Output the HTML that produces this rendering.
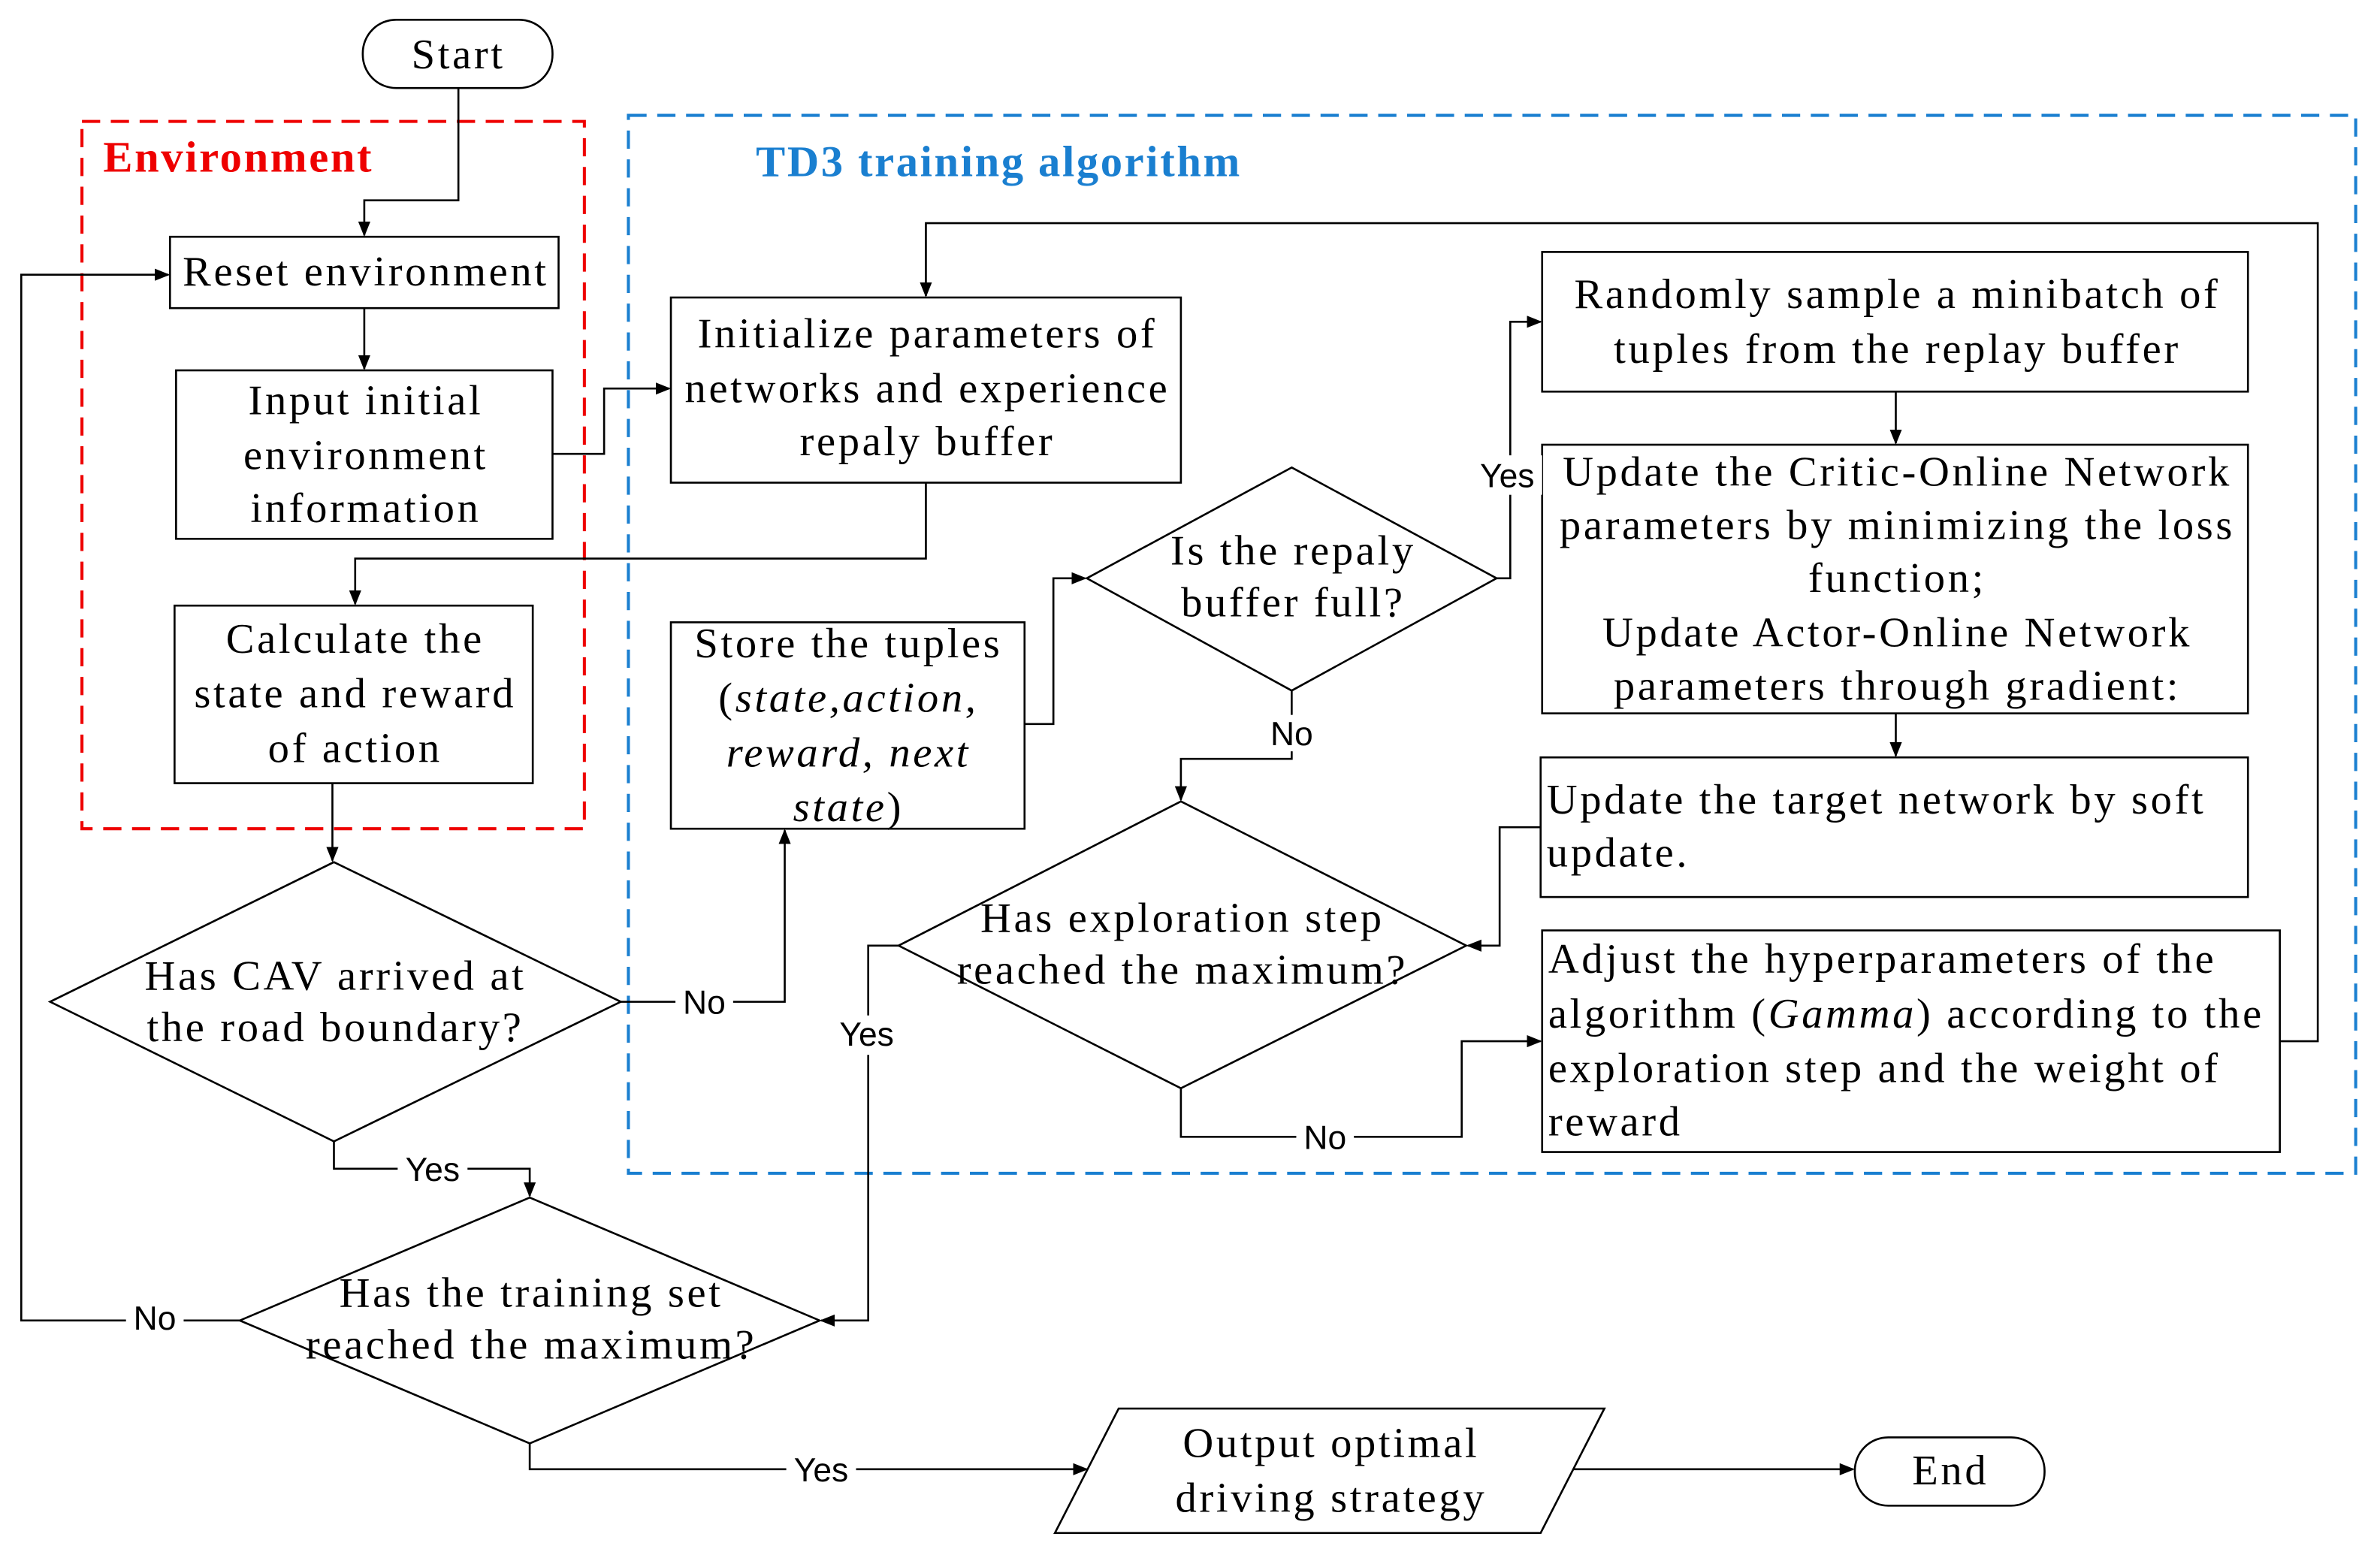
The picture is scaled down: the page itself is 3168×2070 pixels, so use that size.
<!DOCTYPE html>
<html><head><meta charset="utf-8">
<style>
html,body{margin:0;padding:0;background:#fff;width:3168px;height:2070px;overflow:hidden}
svg{display:block}
.s{font-family:"Liberation Serif",serif;font-size:28px;letter-spacing:1.8px;fill:#000}
.l{font-family:"Liberation Sans",sans-serif;font-size:22px;fill:#000}
.b{fill:#fff;stroke:#000;stroke-width:1.3}
.c{fill:none;stroke:#000;stroke-width:1.3}
</style></head><body>
<svg width="3168" height="2070" viewBox="0 0 1568 1024.5" preserveAspectRatio="none" xmlns="http://www.w3.org/2000/svg">
<defs><marker id="a" markerWidth="10" markerHeight="8" refX="9" refY="4" orient="auto" markerUnits="userSpaceOnUse"><path d="M0,0 L10,4 L0,8 z" fill="#000"/></marker></defs>
<rect width="1568" height="1024.5" fill="#fff"/>
<rect x="54" y="80" width="331" height="466" fill="none" stroke="#e00" stroke-width="2" stroke-dasharray="12,7"/>
<rect x="414" y="76" width="1138" height="697" fill="none" stroke="#1a7fd0" stroke-width="2" stroke-dasharray="12,7"/>
<text x="68" y="113" font-family="Liberation Serif,serif" font-weight="bold" font-size="29" letter-spacing="1.3" fill="#e00">Environment</text>
<text x="498" y="116" font-family="Liberation Serif,serif" font-weight="bold" font-size="29" letter-spacing="1.3" fill="#1a7fd0">TD3 training algorithm</text>

<g class="c">
<path d="M302,58 V132 H240 V155" marker-end="url(#a)"/>
<path d="M240,203 V243" marker-end="url(#a)"/>
<path d="M364,299 H398 V256 H441" marker-end="url(#a)"/>
<path d="M610,318 V368 H234 V398" marker-end="url(#a)"/>
<path d="M219,516 V567" marker-end="url(#a)"/>
<path d="M409,660 H517 V547" marker-end="url(#a)"/>
<path d="M675,477 H694 V381 H715" marker-end="url(#a)"/>
<path d="M986,381 H995 V212 H1015" marker-end="url(#a)"/>
<path d="M851,455 V500 H778 V527" marker-end="url(#a)"/>
<path d="M1249,258 V292" marker-end="url(#a)"/>
<path d="M1249,470 V498" marker-end="url(#a)"/>
<path d="M1015,545 H988 V623 H967" marker-end="url(#a)"/>
<path d="M778,717 V749 H963 V686 H1015" marker-end="url(#a)"/>
<path d="M1502,686 H1527 V147 H610 V195" marker-end="url(#a)"/>
<path d="M592,623 H572 V870 H541" marker-end="url(#a)"/>
<path d="M220,752 V770 H349 V788" marker-end="url(#a)"/>
<path d="M158,870 H14 V181 H111" marker-end="url(#a)"/>
<path d="M349,951 V968 H716" marker-end="url(#a)"/>
<path d="M1036,968 H1221" marker-end="url(#a)"/>
</g>

<rect class="b" x="239" y="13" width="125" height="45" rx="22"/>
<text class="s" x="302" y="45" text-anchor="middle">Start</text>
<rect class="b" x="112" y="156" width="256" height="47"/>
<text class="s" x="241" y="188" text-anchor="middle">Reset environment</text>
<rect class="b" x="116" y="244" width="248" height="111"/>
<text class="s" text-anchor="middle"><tspan x="241" y="273">Input initial</tspan><tspan x="241" y="309">environment</tspan><tspan x="241" y="344">information</tspan></text>
<rect class="b" x="115" y="399" width="236" height="117"/>
<text class="s" text-anchor="middle"><tspan x="234" y="430">Calculate the</tspan><tspan x="234" y="466">state and reward</tspan><tspan x="234" y="502">of action</tspan></text>
<polygon class="b" points="220,568 409,660 220,752 33,660"/>
<text class="s" text-anchor="middle"><tspan x="221" y="652">Has CAV arrived at</tspan><tspan x="221" y="686">the road boundary?</tspan></text>
<rect class="b" x="442" y="196" width="336" height="122"/>
<text class="s" text-anchor="middle"><tspan x="611" y="229">Initialize  parameters of</tspan><tspan x="611" y="265">networks and experience</tspan><tspan x="611" y="300">repaly buffer</tspan></text>
<rect class="b" x="442" y="410" width="233" height="136"/>
<text class="s" text-anchor="middle"><tspan x="559" y="433">Store the tuples</tspan><tspan x="559" y="469">(<tspan font-style="italic">state,action,</tspan></tspan><tspan x="559" y="505" font-style="italic">reward, next</tspan><tspan x="559" y="541"><tspan font-style="italic">state</tspan>)</tspan></text>
<polygon class="b" points="851,308 986,381 851,455 716,381"/>
<text class="s" text-anchor="middle"><tspan x="852" y="372">Is the repaly</tspan><tspan x="852" y="406">buffer full?</tspan></text>
<rect class="b" x="1016" y="166" width="465" height="92"/>
<text class="s" text-anchor="middle"><tspan x="1250" y="203">Randomly sample a minibatch of</tspan><tspan x="1250" y="239">tuples from the replay buffer</tspan></text>
<rect class="b" x="1016" y="293" width="465" height="177"/>
<text class="s" text-anchor="middle"><tspan x="1250" y="320">Update the Critic-Online Network</tspan><tspan x="1250" y="355">parameters by minimizing the loss</tspan><tspan x="1250" y="390">function;</tspan><tspan x="1250" y="426">Update Actor-Online Network</tspan><tspan x="1250" y="461">parameters through gradient:</tspan></text>
<rect class="b" x="1015" y="499" width="466" height="92"/>
<text class="s"><tspan x="1019" y="536">Update the target network by soft</tspan><tspan x="1019" y="571">update.</tspan></text>
<rect class="b" x="1016" y="613" width="486" height="146"/>
<text class="s"><tspan x="1020" y="641">Adjust the hyperparameters of the</tspan><tspan x="1020" y="677">algorithm (<tspan font-style="italic">Gamma</tspan>) according to the</tspan><tspan x="1020" y="713">exploration step and the weight of</tspan><tspan x="1020" y="748">reward</tspan></text>
<polygon class="b" points="778,528 966,623 778,717 592,623"/>
<text class="s" text-anchor="middle"><tspan x="779" y="614">Has exploration step</tspan><tspan x="779" y="648">reached the maximum?</tspan></text>
<polygon class="b" points="349,789 540,870 349,951 158,870"/>
<text class="s" text-anchor="middle"><tspan x="350" y="861">Has the training set</tspan><tspan x="350" y="895">reached the maximum?</tspan></text>
<polygon class="b" points="737,928 1057,928 1015,1010 695,1010"/>
<text class="s" text-anchor="middle"><tspan x="877" y="960">Output optimal</tspan><tspan x="877" y="996">driving strategy</tspan></text>
<rect class="b" x="1222" y="947" width="125" height="45" rx="22"/>
<text class="s" x="1285" y="978" text-anchor="middle">End</text>

<g class="l" text-anchor="middle">
<rect x="445" y="648" width="38" height="24" fill="#fff"/><text x="464" y="668">No</text>
<rect x="970" y="300" width="46" height="26" fill="#fff"/><text x="993" y="321">Yes</text>
<rect x="832" y="471" width="38" height="24" fill="#fff"/><text x="851" y="491">No</text>
<rect x="854" y="737" width="38" height="24" fill="#fff"/><text x="873" y="757">No</text>
<rect x="549" y="669" width="46" height="26" fill="#fff"/><text x="571" y="689">Yes</text>
<rect x="262" y="758" width="46" height="26" fill="#fff"/><text x="285" y="778">Yes</text>
<rect x="83" y="856" width="38" height="24" fill="#fff"/><text x="102" y="876">No</text>
<rect x="518" y="956" width="46" height="26" fill="#fff"/><text x="541" y="976">Yes</text>
</g>
</svg>
</body></html>
